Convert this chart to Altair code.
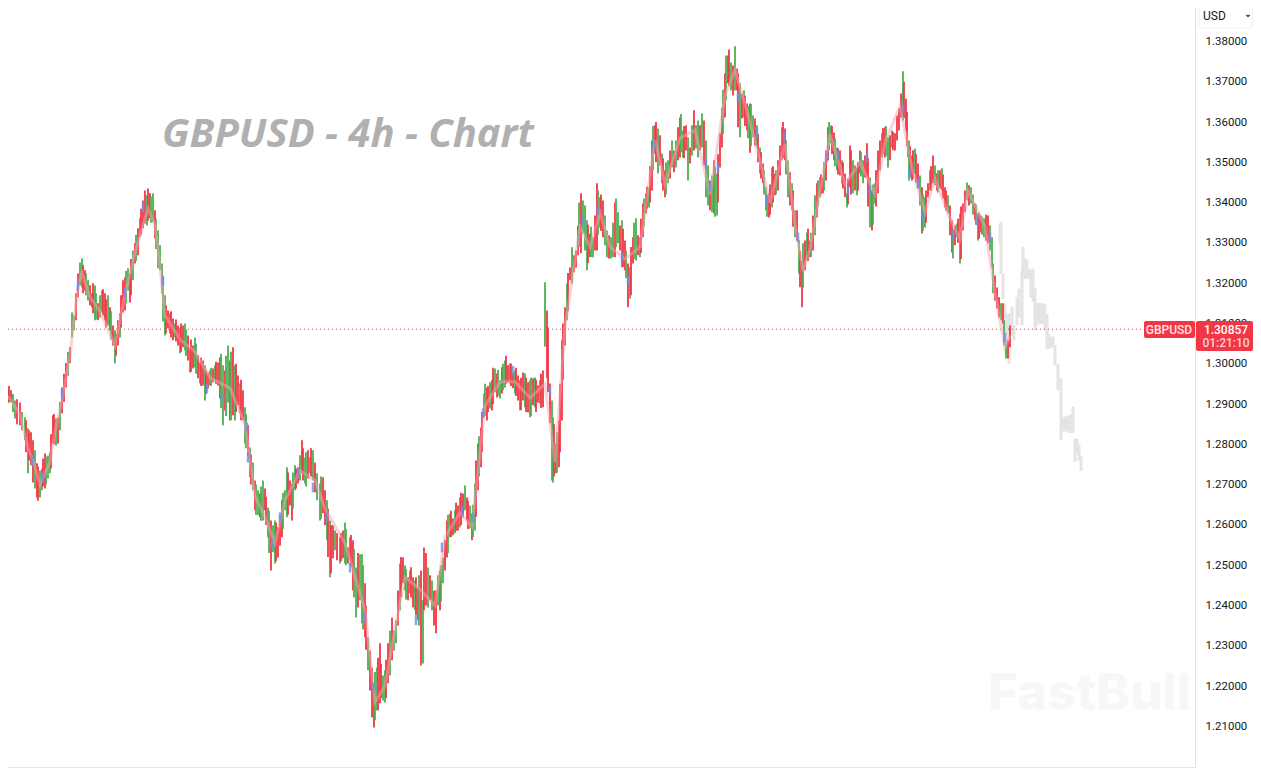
import altair as alt
import pandas as pd

# candle positions (bar number) and high / low in 1e-4 price units
bar_x = [
    8, 11, 15, 20, 25, 28, 31, 33, 37, 40, 42, 45, 48, 50, 53, 56, 58, 62, 66, 70,
    72, 74, 76, 78, 80, 82, 85, 88, 92, 95, 98, 102, 105, 108, 110, 113, 115, 118, 120, 123,
    125, 128, 130, 133, 135, 138, 140, 143, 145, 147, 150, 153, 155, 158, 160, 162, 165, 168, 170, 173,
    175, 178, 180, 183, 185, 188, 190, 193, 195, 198, 200, 203, 205, 208, 210, 213, 215, 218, 220, 223,
    225, 228, 230, 233, 235, 238, 240, 243, 245, 248, 250, 253, 255, 258, 260, 263, 265, 268, 271, 273,
    275, 278, 280, 282, 285, 287, 290, 292, 295, 298, 300, 302, 305, 308, 310, 313, 315, 317, 320, 323,
    325, 327, 330, 333, 335, 337, 340, 343, 345, 348, 350, 353, 356, 358, 360, 362, 365, 368, 370, 372,
    374, 377, 380, 383, 385, 388, 390, 392, 394, 396, 398, 400, 403, 405, 408, 410, 413, 415, 418, 421,
    423, 424, 428, 430, 432, 434, 436, 438, 440, 443, 445, 447, 450, 453, 455, 458, 460, 463, 465, 467,
    470, 472, 475, 478, 481, 484, 487, 490, 492, 495, 497, 500, 502, 505, 508, 510, 513, 515, 518, 520,
    523, 525, 528, 530, 533, 535, 538, 540, 543, 545, 547, 550, 552, 553, 556, 559, 562, 565, 567, 570,
    572, 574, 576, 578, 581, 583, 585, 587, 590, 593, 595, 597, 600, 603, 605, 607, 609, 611, 615, 618,
    620, 622, 625, 626, 628, 630, 633, 636, 638, 640, 643, 646, 649, 652, 655, 658, 660, 662, 665, 668,
    670, 672, 674, 676, 678, 680, 683, 686, 688, 690, 692, 694, 696, 698, 700, 702, 704, 706, 708, 710,
    712, 714, 717, 720, 722, 725, 726, 728, 731, 733, 735, 737, 738, 740, 742, 744, 747, 750, 753, 755,
    757, 760, 763, 766, 769, 772, 775, 778, 780, 782, 785, 788, 790, 792, 795, 797, 799, 802, 803, 805,
    807, 810, 813, 815, 817, 820, 823, 826, 828, 831, 834, 837, 840, 842, 845, 847, 850, 853, 855, 857,
    860, 863, 865, 867, 870, 872, 875, 878, 880, 882, 885, 888, 890, 892, 895, 897, 899, 901, 903, 906,
    908, 909, 912, 915, 918, 920, 922, 925, 928, 930, 933, 935, 937, 940, 942, 945, 948, 950, 952, 953,
    955, 957, 960, 963, 965, 967, 969, 971, 975, 978, 981, 984, 988, 990, 992, 993, 995, 997, 999, 1001,
    1003, 1004, 1006, 1008, 1010,
]
bar_high = [
    12939, 12934, 12909, 12904, 12867, 12840, 12830, 12810, 12753, 12735, 12740, 12777, 12772, 12780, 12872, 12864, 12867, 12941, 13001, 13041,
    13127, 13120, 13175, 13224, 13251, 13261, 13232, 13207, 13175, 13194, 13150, 13182, 13175, 13170, 13140, 13095, 13083, 13108, 13125, 13207,
    13214, 13237, 13224, 13281, 13299, 13336, 13361, 13405, 13430, 13418, 13423, 13423, 13381, 13331, 13294, 13249, 13170, 13132, 13125, 13112,
    13100, 13095, 13090, 13095, 13100, 13070, 13041, 13045, 13065, 13021, 13003, 13008, 12996, 12978, 12983, 12988, 12996, 13003, 13016, 12996,
    12983, 13045, 13008, 13041, 12996, 12971, 12951, 12934, 12892, 12847, 12792, 12755, 12710, 12686, 12678, 12710, 12690, 12643, 12611, 12599,
    12611, 12594, 12624, 12661, 12686, 12743, 12710, 12703, 12748, 12743, 12773, 12810, 12767, 12785, 12767, 12785, 12755, 12728, 12703, 12718,
    12686, 12661, 12611, 12599, 12586, 12579, 12569, 12586, 12606, 12544, 12569, 12562, 12494, 12530, 12527, 12527, 12455, 12321, 12288, 12246,
    12207, 12246, 12306, 12226, 12239, 12306, 12338, 12370, 12338, 12363, 12437, 12504, 12519, 12499, 12470, 12487, 12470, 12462, 12445, 12487,
    12413, 12544, 12494, 12475, 12462, 12437, 12437, 12475, 12487, 12519, 12562, 12611, 12628, 12616, 12636, 12648, 12668, 12678, 12698, 12668,
    12648, 12628, 12703, 12802, 12842, 12926, 12941, 12954, 12959, 12988, 12976, 12959, 12991, 13008, 12996, 13001, 12978, 12983, 12971, 12959,
    12978, 12976, 12954, 12959, 12964, 12966, 12946, 12959, 12983, 13202, 13132, 12951, 12909, 12867, 12802, 12859, 13058, 13140, 13199, 13239,
    13289, 13269, 13281, 13343, 13423, 13405, 13393, 13356, 13323, 13314, 13368, 13448, 13413, 13405, 13368, 13331, 13319, 13314, 13400, 13376,
    13343, 13356, 13306, 13281, 13249, 13239, 13314, 13361, 13319, 13314, 13398, 13423, 13438, 13554, 13592, 13584, 13567, 13522, 13480, 13505,
    13529, 13554, 13529, 13554, 13587, 13611, 13579, 13592, 13562, 13537, 13592, 13629, 13592, 13604, 13592, 13621, 13604, 13554, 13492, 13455,
    13467, 13505, 13472, 13572, 13636, 13721, 13765, 13765, 13748, 13740, 13788, 13733, 13721, 13696, 13671, 13678, 13646, 13646, 13616, 13609,
    13592, 13537, 13497, 13438, 13423, 13487, 13472, 13505, 13542, 13587, 13584, 13505, 13475, 13448, 13381, 13381, 13306, 13256, 13299, 13306,
    13326, 13306, 13368, 13418, 13448, 13462, 13462, 13529, 13587, 13592, 13574, 13537, 13529, 13505, 13472, 13423, 13542, 13505, 13492, 13487,
    13529, 13505, 13517, 13547, 13462, 13430, 13448, 13529, 13554, 13572, 13587, 13562, 13567, 13579, 13572, 13616, 13634, 13671, 13726, 13658,
    13554, 13554, 13517, 13534, 13497, 13467, 13438, 13413, 13448, 13480, 13517, 13492, 13472, 13480, 13485, 13438, 13418, 13393, 13356, 13331,
    13343, 13348, 13373, 13398, 13430, 13450, 13443, 13438, 13398, 13373, 13368, 13361, 13368, 13343, 13314, 13249, 13219, 13189, 13165, 13150,
    13150, 13108, 13051, 13058, 13095,
]
bar_low = [
    12902, 12904, 12864, 12847, 12810, 12728, 12748, 12705, 12668, 12668, 12686, 12690, 12715, 12728, 12802, 12797, 12802, 12877, 12941, 13001,
    13065, 13083, 13108, 13165, 13194, 13189, 13182, 13157, 13140, 13108, 13108, 13127, 13108, 13095, 13083, 13045, 13001, 13045, 13065, 13127,
    13132, 13182, 13152, 13207, 13249, 13269, 13314, 13336, 13348, 13343, 13361, 13351, 13311, 13237, 13232, 13175, 13070, 13088, 13075, 13058,
    13065, 13045, 13026, 13041, 13033, 13008, 12978, 12988, 12991, 12964, 12951, 12946, 12909, 12939, 12946, 12954, 12959, 12946, 12914, 12847,
    12884, 12904, 12859, 12872, 12859, 12897, 12877, 12859, 12802, 12772, 12718, 12686, 12636, 12624, 12619, 12611, 12636, 12569, 12487, 12532,
    12504, 12519, 12549, 12569, 12636, 12619, 12648, 12611, 12686, 12703, 12710, 12728, 12703, 12715, 12728, 12710, 12681, 12661, 12611, 12629,
    12599, 12562, 12470, 12517, 12537, 12512, 12504, 12517, 12504, 12504, 12512, 12437, 12370, 12395, 12413, 12356, 12321, 12239, 12189, 12122,
    12097, 12139, 12157, 12164, 12159, 12207, 12226, 12264, 12288, 12306, 12350, 12388, 12455, 12437, 12413, 12430, 12395, 12388, 12363, 12251,
    12256, 12388, 12395, 12413, 12388, 12350, 12331, 12400, 12388, 12455, 12487, 12519, 12569, 12574, 12579, 12586, 12594, 12619, 12636, 12611,
    12591, 12562, 12586, 12686, 12743, 12867, 12859, 12889, 12884, 12929, 12916, 12914, 12926, 12941, 12954, 12951, 12939, 12926, 12909, 12884,
    12909, 12892, 12879, 12867, 12897, 12892, 12904, 12901, 12892, 13043, 12964, 12852, 12710, 12705, 12728, 12743, 12859, 13045, 13108, 13207,
    13199, 13227, 13239, 13269, 13274, 13323, 13281, 13232, 13264, 13264, 13281, 13281, 13338, 13314, 13294, 13264, 13261, 13261, 13264, 13299,
    13281, 13239, 13232, 13212, 13140, 13162, 13249, 13256, 13269, 13264, 13314, 13373, 13388, 13430, 13522, 13472, 13492, 13448, 13413, 13448,
    13460, 13487, 13475, 13487, 13505, 13512, 13512, 13529, 13455, 13497, 13517, 13529, 13534, 13512, 13529, 13537, 13492, 13413, 13393, 13381,
    13376, 13373, 13368, 13487, 13537, 13611, 13654, 13696, 13678, 13666, 13678, 13678, 13587, 13562, 13609, 13611, 13579, 13524, 13562, 13542,
    13537, 13472, 13448, 13381, 13363, 13388, 13418, 13430, 13467, 13505, 13505, 13413, 13393, 13381, 13314, 13306, 13224, 13140, 13189, 13232,
    13256, 13264, 13281, 13319, 13363, 13413, 13423, 13455, 13505, 13547, 13505, 13480, 13467, 13448, 13413, 13388, 13438, 13423, 13430, 13418,
    13472, 13448, 13462, 13462, 13338, 13331, 13398, 13423, 13480, 13512, 13512, 13487, 13505, 13537, 13529, 13554, 13579, 13611, 13604, 13579,
    13512, 13455, 13455, 13472, 13435, 13393, 13323, 13338, 13413, 13430, 13448, 13443, 13430, 13435, 13430, 13388, 13373, 13319, 13276, 13261,
    13294, 13314, 13249, 13331, 13376, 13405, 13393, 13398, 13356, 13306, 13326, 13314, 13299, 13281, 13239, 13175, 13157, 13137, 13115, 13108,
    13100, 13045, 13013, 13013, 13041,
]
bar_dir = (
    "grgrggrrrggrggrgrrrr"
    "ggrrggrgrgrgrgrrgrgr"
    "rgrgrrgrrgrgrggggrgr"
    "grgrgrgrgrgrgrgrgrrg"
    "rgrrgrgrgrggrgrgrgrg"
    "grrrggrrgrgrgrggrggr"
    "rggrgrgrgrgrgrggrgrr"
    "rgrggrgrggrgrgrgrgrr"
    "grgrgrrgrgrrgrgrgrgr"
    "grgrrgrgrgrgrgrgrgrg"
    "rgrgrgrgrgrrggrrrrgr"
    "grrrrgggrgrrgrggrgrg"
    "rgrgrgrgrgrrgrrgrgrg"
    "rgrgrrgrgrgrggrgrggr"
    "grgrrrgrgrgrrgrgrrgr"
    "ggrgrgrrrgrgrggrgrgr"
    "grrgrgrrrgrgrgrgrgrg"
    "rgrrgrgrrgrgrgrrrrgr"
    "ggrgrgrgrgrgrrgrgrrg"
    "rggrrgrgrgrgrgggrrrg"
    "rggrr"
)

# the candles that sit in between the ones above
fill_x = [
    9, 13, 17, 22, 26, 29, 35, 38, 43, 46, 51, 54, 60, 64, 68, 83, 86, 90, 93, 96,
    100, 103, 106, 111, 116, 121, 126, 131, 136, 141, 148, 151, 156, 163, 166, 171, 176, 181, 186, 191,
    196, 201, 206, 211, 216, 221, 226, 231, 236, 241, 246, 251, 256, 261, 266, 269, 276, 283, 288, 293,
    296, 303, 306, 311, 321, 328, 331, 341, 346, 351, 354, 363, 366, 375, 378, 381, 386, 401, 406, 411,
    416, 419, 426, 441, 448, 451, 456, 461, 468, 473, 476, 479, 482, 485, 488, 493, 498, 503, 506, 511,
    516, 521, 526, 531, 536, 541, 548, 554, 557, 560, 563, 568, 579, 588, 591, 598, 601, 613, 616, 623,
    631, 634, 641, 644, 647, 650, 653, 656, 663, 666, 681, 684, 715, 718, 723, 729, 745, 748, 751, 758,
    761, 764, 767, 770, 773, 776, 783, 786, 793, 800, 808, 811, 818, 821, 824, 829, 832, 835, 838, 843,
    848, 851, 858, 861, 868, 873, 876, 883, 886, 893, 904, 907, 910, 913, 916, 923, 926, 931, 938, 943,
    946, 958, 961, 973, 976, 979, 982, 986,
]
fill_high = [
    12945, 12925, 12912, 12880, 12860, 12835, 12785, 12745, 12765, 12770, 12825, 12875, 12905, 12975, 13030, 13245, 13225, 13195, 13200, 13175,
    13170, 13185, 13160, 13130, 13075, 13170, 13230, 13260, 13320, 13385, 13435, 13415, 13360, 13215, 13145, 13130, 13110, 13100, 13085, 13060,
    13050, 13015, 12985, 12990, 13005, 13025, 13020, 13030, 13000, 12960, 12875, 12775, 12700, 12695, 12670, 12635, 12605, 12680, 12730, 12730,
    12740, 12790, 12780, 12790, 12720, 12640, 12600, 12580, 12590, 12575, 12540, 12500, 12400, 12235, 12270, 12255, 12265, 12520, 12490, 12495,
    12470, 12475, 12530, 12500, 12625, 12635, 12655, 12680, 12660, 12650, 12760, 12820, 12880, 12950, 12945, 12990, 12985, 13000, 13020, 13000,
    12990, 12965, 12965, 12965, 12960, 12975, 13090, 12850, 12830, 12950, 13100, 13225, 13400, 13345, 13340, 13430, 13420, 13350, 13410, 13335,
    13290, 13350, 13360, 13410, 13440, 13490, 13590, 13600, 13510, 13500, 13620, 13590, 13490, 13520, 13680, 13780, 13665, 13640, 13645, 13570,
    13525, 13480, 13420, 13445, 13490, 13480, 13600, 13555, 13430, 13280, 13335, 13325, 13455, 13470, 13500, 13600, 13590, 13560, 13535, 13500,
    13460, 13530, 13500, 13525, 13510, 13445, 13480, 13585, 13590, 13575, 13700, 13625, 13540, 13530, 13520, 13420, 13430, 13490, 13480, 13470,
    13430, 13360, 13390, 13420, 13395, 13375, 13365, 13370,
]
fill_low = [
    12905, 12880, 12850, 12835, 12780, 12760, 12690, 12660, 12695, 12700, 12740, 12800, 12835, 12905, 12970, 13175, 13170, 13145, 13125, 13110,
    13115, 13120, 13090, 13060, 13020, 13090, 13150, 13170, 13255, 13320, 13355, 13350, 13285, 13105, 13075, 13065, 13055, 13030, 13020, 12980,
    12975, 12945, 12925, 12945, 12950, 12890, 12870, 12860, 12880, 12860, 12790, 12700, 12625, 12610, 12600, 12530, 12510, 12590, 12625, 12640,
    12690, 12710, 12695, 12720, 12615, 12520, 12480, 12510, 12500, 12495, 12420, 12340, 12290, 12115, 12140, 12170, 12170, 12420, 12415, 12420,
    12375, 12350, 12400, 12410, 12530, 12570, 12585, 12600, 12590, 12570, 12620, 12720, 12780, 12870, 12880, 12900, 12920, 12935, 12950, 12945,
    12920, 12885, 12880, 12870, 12880, 12890, 12930, 12720, 12730, 12780, 12960, 13130, 13290, 13250, 13265, 13320, 13330, 13265, 13290, 13240,
    13170, 13260, 13275, 13340, 13385, 13400, 13480, 13500, 13430, 13420, 13525, 13510, 13365, 13400, 13570, 13690, 13590, 13560, 13540, 13500,
    13460, 13420, 13365, 13370, 13400, 13420, 13510, 13470, 13340, 13190, 13255, 13265, 13390, 13420, 13430, 13530, 13520, 13490, 13470, 13435,
    13395, 13420, 13430, 13465, 13390, 13345, 13390, 13520, 13515, 13530, 13610, 13540, 13465, 13460, 13450, 13330, 13350, 13430, 13425, 13410,
    13380, 13300, 13260, 13370, 13345, 13310, 13320, 13305,
]
fill_dir = (
    "rgrgrrgrrgrrgrgrgrrg"
    "grrgrrgrgrrgggrrrrgr"
    "grrgrgggrrgrggrgrgrg"
    "rrgrgrrrgrggrgrrrrgr"
    "rgrggrrrrgrgrgrrggrr"
    "rrrgrrrrgrrrgrggrggr"
    "rgrgrrgrrggrgrgrrggr"
    "rggrrgrgrrrggrggrgrr"
    "rrrgrgrrgrrrrrrgrrgr"
    "rrrggrgr"
)

# smoothed line through the candles
trend_x = [
    8, 20, 28, 33, 40, 50, 55, 62, 70, 78, 82, 90, 100, 115, 125, 135, 148, 155, 160, 165,
    180, 195, 210, 230, 245, 255, 265, 275, 285, 300, 315, 325, 345, 355, 365, 375, 385, 395, 405, 420,
    435, 445, 460, 472, 485, 500, 515, 530, 545, 555, 565, 580, 590, 600, 610, 625, 640, 655, 665, 680,
    695, 710, 725, 735, 745, 760, 770, 785, 795, 803, 810, 830, 845, 860, 875, 885, 900, 912, 925, 935,
    950, 960, 968, 985, 995, 1005, 1010,
]
trend_y = [
    12920, 12875, 12790, 12760, 12700, 12755, 12830, 12910, 13020, 13195, 13225, 13165, 13130, 13045, 13170, 13275, 13385, 13345, 13240, 13120,
    13060, 13030, 12965, 12940, 12850, 12670, 12620, 12555, 12660, 12735, 12710, 12640, 12555, 12470, 12390, 12160, 12200, 12340, 12470, 12440,
    12400, 12570, 12630, 12595, 12895, 12955, 12955, 12915, 12950, 12755, 13090, 13340, 13290, 13375, 13290, 13260, 13290, 13555, 13445, 13560,
    13580, 13420, 13665, 13730, 13645, 13505, 13400, 13545, 13345, 13230, 13285, 13570, 13445, 13500, 13420, 13550, 13640, 13485, 13375, 13460,
    13360, 13310, 13430, 13340, 13175, 13040, 13070,
]

# short blue stretches of that line
blue_x = [
    32, 43, 62, 78, 125, 143, 163, 207, 223, 247, 248, 272, 280, 298, 313, 327, 350, 364, 373, 416,
    442, 462, 473, 483, 513, 550, 583, 598, 622, 628, 655, 706, 710, 718, 738, 757, 767, 784, 798, 827,
    838, 848, 867, 870, 903, 910, 918, 923, 953, 977, 990, 1005,
]
blue_y = [
    12760, 12718, 12926, 13194, 13177, 13388, 13207, 12939, 12916, 12842, 12767, 12554, 12619, 12728, 12693, 12619, 12494, 12370, 12197, 12363,
    12544, 12636, 12619, 12877, 12983, 12934, 13356, 13381, 13264, 13207, 13542, 13497, 13438, 13487, 13661, 13572, 13405, 13562, 13314, 13512,
    13517, 13430, 13512, 13430, 13634, 13472, 13448, 13363, 13323, 13356, 13314, 13065,
]

# grey projected bars to the right
ghost_x = [
    1000, 1001, 1003, 1005, 1007, 1009, 1012, 1014, 1017, 1019, 1022, 1023, 1025, 1027, 1029, 1031, 1033, 1035, 1037,
    1039, 1041, 1043, 1045, 1047, 1049, 1051, 1053, 1055, 1058, 1061, 1063, 1065, 1067, 1069, 1071, 1073, 1075, 1077, 1079, 1081,
]
ghost_high = [
    13347, 13353, 13223, 13149, 13124, 13124, 13141, 13095, 13166, 13186, 13232, 13290, 13261, 13257, 13236, 13233, 13236, 13189, 13151,
    13151, 13151, 13149, 13147, 13123, 13073, 13066, 13068, 13046, 13000, 12963, 12866, 12869, 12869, 12872, 12874, 12894, 12814, 12814, 12799, 12770,
]
ghost_low = [
    13300, 13223, 13161, 13050, 13025, 13000, 13070, 13058, 13095, 13116, 13095, 13215, 13211, 13211, 13211, 13164, 13153, 13083, 13095,
    13099, 13099, 13099, 13083, 13037, 13037, 13040, 13043, 12996, 12934, 12810, 12833, 12831, 12835, 12828, 12828, 12828, 12756, 12777, 12759, 12734,
]

price_ticks = [1.21, 1.22, 1.23, 1.24, 1.25, 1.26, 1.27, 1.28, 1.29, 1.30, 1.31, 1.32, 1.33, 1.34, 1.35, 1.36, 1.37, 1.38]
last_price = 1.30857
countdown = "01:21:10"

RED = "#f23645"
GREEN = "#4caf50"
UI_FONT = "Roboto"

x_scale = alt.Scale(domain=[8, 1195], nice=False, zero=False)
y_scale = alt.Scale(domain=[1.1999, 1.3883], nice=False, zero=False)

bars = pd.DataFrame({
    "x": bar_x + fill_x,
    "high": [v / 10000 for v in bar_high + fill_high],
    "low": [v / 10000 for v in bar_low + fill_low],
    "dir": list(bar_dir + fill_dir),
}).sort_values("x")
trend = pd.DataFrame({"x": trend_x, "y": [v / 10000 for v in trend_y]})
blue = pd.DataFrame({
    "x": blue_x,
    "top": [(v + 12) / 10000 for v in blue_y],
    "bottom": [(v - 12) / 10000 for v in blue_y],
})
ghost = pd.DataFrame({
    "x": ghost_x,
    "high": [v / 10000 for v in ghost_high],
    "low": [v / 10000 for v in ghost_low],
})

ghost_layer = alt.Chart(ghost).mark_rule(strokeWidth=3, color="#e4e4e4").encode(
    x=alt.X("x:Q", scale=x_scale, axis=alt.Axis(
        labels=False, ticks=False, grid=False, title=None, domainColor="#e0e3eb", domainWidth=1)),
    y=alt.Y("high:Q", scale=y_scale, axis=alt.Axis(
        orient="right", values=price_ticks, format=".5f", title=None, grid=False, ticks=False,
        domainColor="#e0e3eb", domainWidth=1, labelFont=UI_FONT, labelFontSize=11.5,
        labelColor="#131722", labelPadding=10, labelAlign="left")),
    y2="low:Q",
)

bar_layer = alt.Chart(bars).mark_rule(strokeWidth=1.8).encode(
    x=alt.X("x:Q", scale=x_scale),
    y=alt.Y("high:Q", scale=y_scale),
    y2="low:Q",
    color=alt.Color("dir:N", scale=alt.Scale(domain=["r", "g"], range=[RED, GREEN]), legend=None),
)

trend_layer = alt.Chart(trend).mark_line(color="#f9a3b2", strokeWidth=3, opacity=0.5).encode(
    x=alt.X("x:Q", scale=x_scale),
    y=alt.Y("y:Q", scale=y_scale),
)

blue_layer = alt.Chart(blue).mark_rule(color="#6c8ff0", strokeWidth=2.5, opacity=0.8).encode(
    x=alt.X("x:Q", scale=x_scale),
    y=alt.Y("top:Q", scale=y_scale),
    y2="bottom:Q",
)

# dotted last price line, stops at the label
price_line = alt.Chart(pd.DataFrame({"y": [last_price]})).mark_rule(
    color=RED, strokeWidth=1, strokeDash=[1, 3]
).encode(y=alt.Y("y:Q", scale=y_scale), x=alt.value(0), x2=alt.value(1136))

title_text = alt.Chart(pd.DataFrame({"t": ["GBPUSD - 4h - Chart"]})).mark_text(
    font="Open Sans", fontSize=40, fontWeight="bold", fontStyle="italic", color="#b0b0b0",
    align="left", baseline="alphabetic"
).encode(text="t:N", x=alt.value(154), y=alt.value(139))

mark_top = alt.Chart(pd.DataFrame({"t": ["FastBull"]})).mark_text(
    font="Inter", fontSize=51, fontWeight=800, color="#f7f7f7", align="left", baseline="alphabetic"
).encode(text="t:N", x=alt.value(980), y=alt.value(702))

usd_box = alt.Chart(pd.DataFrame({"a": [0]})).mark_rect(
    fill="white", stroke="#eeeeee", strokeWidth=1, cornerRadius=4
).encode(x=alt.value(1191), x2=alt.value(1244.5), y=alt.value(-4), y2=alt.value(20))

usd_text = alt.Chart(pd.DataFrame({"t": ["USD"]})).mark_text(
    font=UI_FONT, fontSize=12, color="#131722", align="left", baseline="middle"
).encode(text="t:N", x=alt.value(1195), y=alt.value(8))

usd_arrow = alt.Chart(pd.DataFrame({"t": ["⌄"]})).mark_text(
    font="DejaVu Sans", fontSize=10, fontWeight="bold", color="#131722", align="center", baseline="middle"
).encode(text="t:N", x=alt.value(1240), y=alt.value(6))

name_box = alt.Chart(pd.DataFrame({"a": [0]})).mark_rect(fill=RED, cornerRadius=2).encode(
    x=alt.value(1136), x2=alt.value(1187), y=alt.value(313), y2=alt.value(330))

name_text = alt.Chart(pd.DataFrame({"t": ["GBPUSD"]})).mark_text(
    font=UI_FONT, fontSize=12, fontWeight=500, color="#ffe3e5", align="center", baseline="middle"
).encode(text="t:N", x=alt.value(1161), y=alt.value(322))

price_box = alt.Chart(pd.DataFrame({"a": [0]})).mark_rect(fill=RED, cornerRadius=2).encode(
    x=alt.value(1188), x2=alt.value(1245), y=alt.value(313), y2=alt.value(343))

price_text = alt.Chart(pd.DataFrame({"t": [f"{last_price:.5f}"]})).mark_text(
    font=UI_FONT, fontSize=12, fontWeight=500, color="white", align="center", baseline="middle"
).encode(text="t:N", x=alt.value(1218), y=alt.value(322))

count_text = alt.Chart(pd.DataFrame({"t": [countdown]})).mark_text(
    font=UI_FONT, fontSize=12, fontWeight=500, color="#fbd0d4", align="center", baseline="middle"
).encode(text="t:N", x=alt.value(1218), y=alt.value(335))

chart = alt.layer(
    title_text, mark_top, ghost_layer, price_line, bar_layer, trend_layer, blue_layer,
    usd_box, usd_text, usd_arrow, name_box, name_text, price_box, price_text, count_text,
).resolve_scale(color="independent").properties(
    width=1187,
    height=759,
    padding={"left": 0, "top": 0, "right": 58, "bottom": 1},
    autosize=alt.AutoSizeParams(type="none"),
).configure_view(strokeWidth=0)

chart.save("out.html", embed_options={"renderer": "svg", "actions": False})
